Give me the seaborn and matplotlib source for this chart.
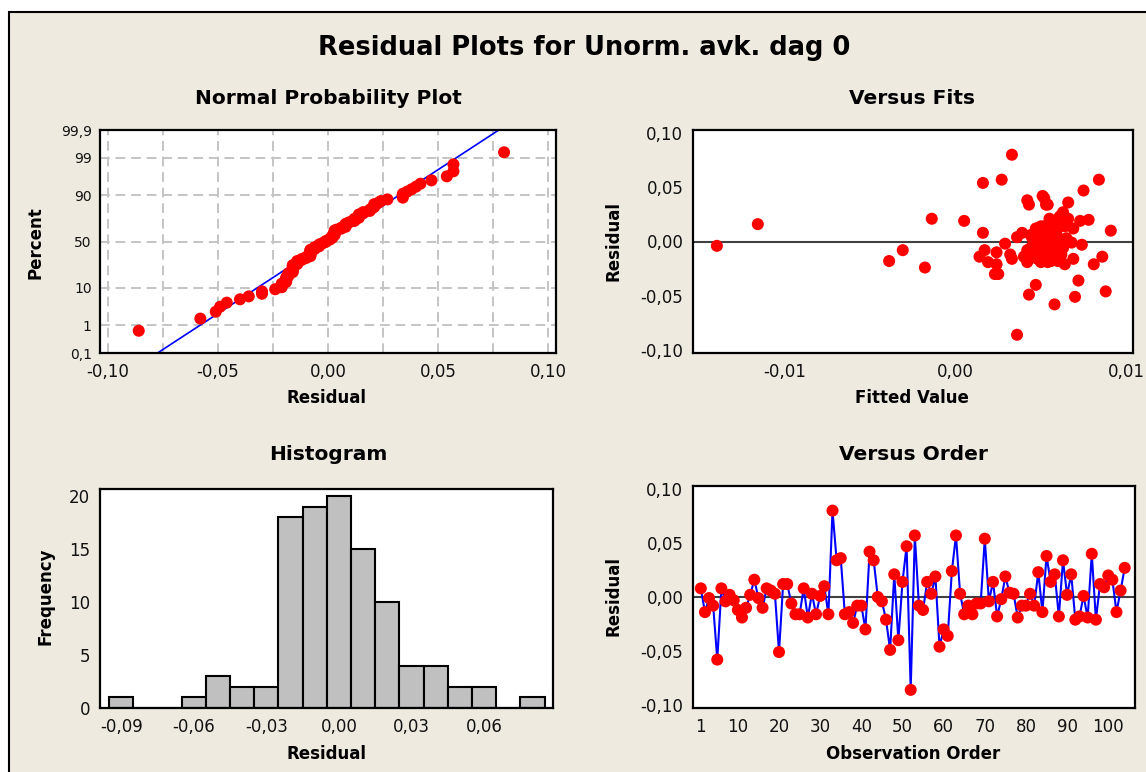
import numpy as np
import pandas as pd
import matplotlib
matplotlib.use('Agg')
import matplotlib.pyplot as plt
import seaborn as sns
from statistics import NormalDist
from matplotlib.patches import Rectangle
from matplotlib.ticker import FuncFormatter

# ---------------- data ----------------
residuals = [
    0.008, -0.014, -0.001, -0.008, -0.058, 0.008, -0.004, 0.002, -0.003, -0.012,
    -0.019, -0.010, 0.002, 0.016, -0.001, -0.010, 0.008, 0.006, 0.003, -0.051,
    0.012, 0.012, -0.006, -0.016, -0.016, 0.008, -0.019, 0.003, -0.016, 0.001,
    0.010, -0.016, 0.080, 0.034, 0.036, -0.016, -0.014, -0.024, -0.008, -0.008,
    -0.030, 0.042, 0.034, 0.000, -0.004, -0.021, -0.049, 0.021, -0.040, 0.014,
    0.047, -0.086, 0.057, -0.008, -0.012, 0.014, 0.003, 0.019, -0.046, -0.030,
    -0.036, 0.024, 0.057, 0.003, -0.016, -0.008, -0.016, -0.006, -0.006, 0.054,
    -0.004, 0.014, -0.018, -0.002, 0.019, 0.004, 0.003, -0.019, -0.008, -0.008,
    0.003, -0.008, 0.023, -0.014, 0.038, 0.014, 0.021, -0.018, 0.034, 0.002,
    0.021, -0.021, -0.018, 0.001, -0.019, 0.040, -0.021, 0.012, 0.009, 0.020,
    0.016, -0.014, 0.006, 0.027,
]
fits = [
    0.0052, 0.0014, 0.0068, 0.0017, 0.0058, 0.0016, 0.0056, 0.0049, 0.0074, 0.0032,
    0.0019, 0.0024, 0.0054, -0.0116, 0.0057, 0.0046, 0.0050, 0.0044, 0.0060, 0.0070,
    0.0069, 0.0047, 0.0053, 0.0033, 0.0048, 0.0039, 0.0054, 0.0051, 0.0058, 0.0046,
    0.0091, 0.0049, 0.0033, 0.0043, 0.0066, 0.0055, 0.0040, -0.0018, -0.0031, 0.0042,
    0.0023, 0.0051, 0.0054, 0.0061, -0.0140, 0.0024, 0.0043, -0.0014, 0.0047, 0.0057,
    0.0075, 0.0036, 0.0084, 0.0050, 0.0062, 0.0064, 0.0055, 0.0005, 0.0088, 0.0025,
    0.0072, 0.0062, 0.0027, 0.0045, 0.0069, 0.0059, 0.0051, 0.0063, 0.0044, 0.0016,
    0.0056, 0.0052, -0.0039, 0.0029, 0.0073, 0.0036, 0.0058, 0.0050, 0.0053, 0.0047,
    0.0065, 0.0057, 0.0061, 0.0086, 0.0042, 0.0050, 0.0055, 0.0060, 0.0053, 0.0062,
    0.0066, 0.0081, 0.0056, 0.0053, 0.0042, 0.0052, 0.0064, 0.0048, 0.0059, 0.0078,
    0.0060, 0.0045, 0.0054, 0.0063,
]
prob_ticks = [0.1, 1, 10, 50, 90, 99, 99.9]
prob_labels = ['0,1', '1', '10', '50', '90', '99', '99,9']
hist_edges = [-0.095, -0.085, -0.075, -0.065, -0.055, -0.045, -0.035, -0.025, -0.015,
              -0.005, 0.005, 0.015, 0.025, 0.035, 0.045, 0.055, 0.065, 0.075, 0.085]
order_ticks = [1, 10, 20, 30, 40, 50, 60, 70, 80, 90, 100]

title = 'Residual Plots for Unorm. avk. dag 0'

# ---------------- style ----------------
sns.set_theme(style='white')
plt.rcParams['font.family'] = ['DejaVu Sans']

W, H = 1146, 772
BG = '#EEEAE0'
RED = '#FF0000'
BLUE = '#0000FF'
TICK_FS = 12
fig = plt.figure(figsize=(W / 100, H / 100), dpi=100)
fig.patch.set_facecolor('white')
fig.patches.append(Rectangle((9 / W, -0.05), 1.2, 1.05 - 12 / H, transform=fig.transFigure,
                             facecolor=BG, edgecolor='black', lw=1.5, zorder=-10))


def add_ax(l, t, r, b):
    ax = fig.add_axes([l / W, 1 - b / H, (r - l) / W, (b - t) / H])
    ax.set_facecolor('white')
    for s in ax.spines.values():
        s.set_color('black')
        s.set_linewidth(1.6)
        s.set_visible(True)
    ax.tick_params(axis='both', which='major', direction='out', length=4, width=1.2,
                   color='black', labelsize=TICK_FS, labelcolor='#111111', pad=3)
    ax.tick_params(axis='both', which='minor', length=0)
    ax.set_xlabel('')
    ax.set_ylabel('')
    return ax


comma2 = FuncFormatter(lambda v, p: f'{v:.2f}'.replace('.', ','))
res = np.array(residuals)
n = len(res)

# ---------------- Normal probability plot ----------------
ax1 = add_ax(100, 130, 556, 353)
nd = NormalDist()
srt = np.sort(res)
pp = (np.arange(1, n + 1) - 0.3) / (n + 0.4)
zz = np.array([nd.inv_cdf(p) for p in pp])
mu, sd = res.mean(), res.std(ddof=1)
zl = np.array([nd.inv_cdf(0.0003), nd.inv_cdf(0.9997)])
sns.lineplot(x=mu + sd * zl, y=zl, color=BLUE, lw=1.2, sort=False, ax=ax1, zorder=2)
sns.scatterplot(x=srt, y=zz, color=RED, s=75, edgecolor='none', ax=ax1, zorder=3)
ax1.set_xlim(-0.1036, 0.1036)
ax1.set_ylim(nd.inv_cdf(0.001), nd.inv_cdf(0.999))
ax1.set_xticks([-0.10, -0.05, 0.0, 0.05, 0.10])
ax1.set_xticks(np.arange(-0.1, 0.1001, 0.025), minor=True)
ax1.xaxis.set_major_formatter(comma2)
ax1.set_yticks([nd.inv_cdf(p / 100) for p in prob_ticks])
ax1.set_yticklabels(prob_labels)
ax1.tick_params(axis='y', labelsize=10, pad=2)
ax1.set_axisbelow(True)
ax1.grid(True, which='both', axis='x', ls=(0, (5, 3)), color='#C4C4C4', lw=1.4)
ax1.grid(True, which='major', axis='y', ls=(0, (5, 3)), color='#C4C4C4', lw=1.4)

# ---------------- Versus fits ----------------
ax2 = add_ax(693, 130, 1133, 353)
ax2.axhline(0, color='#404040', lw=1.5, zorder=1)
sns.scatterplot(x=fits, y=residuals, color=RED, s=75, edgecolor='none', ax=ax2, zorder=3)
ax2.set_xlim(-0.0154, 0.0104)
ax2.set_ylim(-0.1028, 0.1028)
ax2.set_xticks([-0.01, 0.0, 0.01])
ax2.set_yticks([-0.10, -0.05, 0.0, 0.05, 0.10])
ax2.xaxis.set_major_formatter(comma2)
ax2.yaxis.set_major_formatter(comma2)

# ---------------- Histogram ----------------
ax3 = add_ax(100, 489, 553, 708)
sns.histplot(x=residuals, bins=hist_edges, color='#C0C0C0', edgecolor='black',
             linewidth=1.5, alpha=1, ax=ax3)
ax3.set_xlim(-0.0988, 0.0885)
ax3.set_ylim(0, 20.66)
ax3.set_xticks([-0.09, -0.06, -0.03, 0.0, 0.03, 0.06])
ax3.set_yticks([0, 5, 10, 15, 20])
ax3.xaxis.set_major_formatter(comma2)
ax3.set_xlabel('')
ax3.set_ylabel('')

# ---------------- Versus order ----------------
ax4 = add_ax(693, 486, 1135, 708)
df = pd.DataFrame({'obs': np.arange(1, n + 1), 'res': residuals})
ax4.axhline(0, color='#404040', lw=1.5, zorder=1)
sns.lineplot(data=df, x='obs', y='res', color=BLUE, lw=1.5, ax=ax4, zorder=2)
sns.scatterplot(data=df, x='obs', y='res', color=RED, s=75, edgecolor='none', ax=ax4, zorder=3)
ax4.set_xlim(-0.9, 106.5)
ax4.set_ylim(-0.1028, 0.1028)
ax4.set_xticks(order_ticks)
ax4.set_yticks([-0.10, -0.05, 0.0, 0.05, 0.10])
ax4.yaxis.set_major_formatter(comma2)
ax4.set_xlabel('')
ax4.set_ylabel('')

# ---------------- texts ----------------
def ftext(x, y, s, size, rot=0):
    fig.text(x / W, 1 - y / H, s, ha='center', va='center', fontsize=size,
             fontweight='bold', rotation=rot, color='black')

ftext(584, 48, title, 18.5)
ftext(328, 98, 'Normal Probability Plot', 14.5)
ftext(912, 98, 'Versus Fits', 14.5)
ftext(328, 454, 'Histogram', 14.5)
ftext(913, 454, 'Versus Order', 14.5)
ftext(327, 398, 'Residual', 12)
ftext(912, 398, 'Fitted Value', 12)
ftext(327, 754, 'Residual', 12)
ftext(913, 754, 'Observation Order', 12)
ftext(36, 243, 'Percent', 12, 90)
ftext(614, 241, 'Residual', 12, 90)
ftext(45, 596, 'Frequency', 12, 90)
ftext(614, 596, 'Residual', 12, 90)

fig.savefig('out.png', dpi=100, facecolor=fig.get_facecolor())
